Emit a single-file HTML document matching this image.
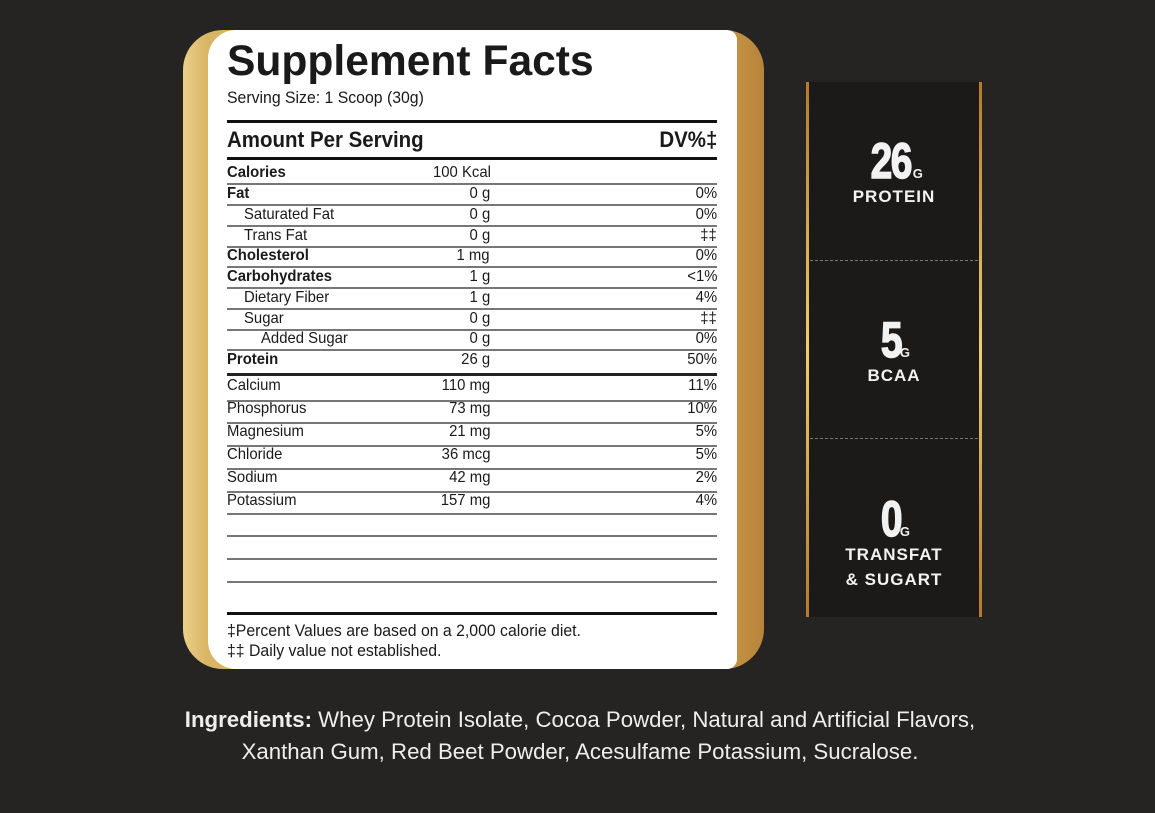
<!DOCTYPE html>
<html><head><meta charset="utf-8">
<style>
body{margin:0;width:1155px;height:813px;background:#262423;overflow:hidden;position:relative;font-family:"Liberation Sans",sans-serif}
.abs{position:absolute}
#gold{left:183px;top:30px;width:581px;height:639px;border-radius:40px;background:linear-gradient(90deg,#ecd08a 0%,#d9b566 4%,#c99a4a 92%,#b7843a 100%)}
#panel{left:208px;top:30px;width:529px;height:639px;background:#fff;border-radius:28px 10px 10px 28px}
.t{position:absolute;font-size:15px;color:#1a1a1a;white-space:nowrap;transform-origin:left center;transform:scaleX(.93);line-height:18px}
.r{transform-origin:right center}
.ln{position:absolute;left:227px;width:490px;background:#777;height:1.5px}
#side{left:806px;top:82px;width:176px;height:535px;background:#1c1a19}
.gl{position:absolute;top:82px;width:3px;height:535px;background:linear-gradient(#b57a2c,#f0cf6a 50%,#b57a2c)}
.dash{position:absolute;left:810px;width:168px;border-top:1.5px dashed #777}
.big{position:absolute;width:176px;left:806px;text-align:center;color:#f2f2f2;font-weight:bold}
.num{font-size:50px;line-height:46px;transform:scaleX(.78);display:inline-block;letter-spacing:-2px;-webkit-text-stroke:1.5px #f2f2f2}
.g{font-size:13px;margin-left:-4px}
.lab{font-size:17px;letter-spacing:1px;line-height:25px}
.ing{position:absolute;left:0;width:1160px;text-align:center;color:#eee;font-size:22px;transform:scaleX(1.01);transform-origin:center}
</style></head><body>
<div class="abs" id="gold"></div>
<div class="abs" id="panel"></div>
<div class="t" style="left:227px;top:38px;font-size:43px;font-weight:bold;line-height:46px;transform:scaleX(.99)">Supplement Facts</div>
<div class="t" style="left:227px;top:89px;font-size:17px">Serving Size: 1 Scoop (30g)</div>
<div class="ln" style="top:120px;height:3px;background:#111"></div>
<div class="t" style="left:227px;top:128px;font-size:22px;font-weight:bold;line-height:24px">Amount Per Serving</div>
<div class="t r" style="right:438px;top:128px;font-size:22px;font-weight:bold;line-height:24px">DV%‡</div>
<div class="ln" style="top:157px;height:3px;background:#111"></div>
<div class="t" style="left:227px;top:622px;font-size:17px">‡Percent Values are based on a 2,000 calorie diet.</div>
<div class="t" style="left:227px;top:642px;font-size:17px">‡‡ Daily value not established.</div>
<div class="ln" style="top:612px;height:3px;background:#111"></div>

<div class="abs" id="side"></div>
<div class="gl" style="left:806px"></div>
<div class="gl" style="left:979px"></div>
<div class="dash" style="top:260px"></div>
<div class="dash" style="top:438px"></div>
<div class="big" style="top:138px"><span class="num">26</span><span class="g">G</span><div class="lab">PROTEIN</div></div>
<div class="big" style="top:317px"><span class="num">5</span><span class="g">G</span><div class="lab">BCAA</div></div>
<div class="big" style="top:496px"><span class="num">0</span><span class="g">G</span><div class="lab">TRANSFAT<br>&amp; SUGART</div></div>

<div class="ing" style="top:707px"><b>Ingredients:</b> Whey Protein Isolate, Cocoa Powder, Natural and Artificial Flavors,</div>
<div class="ing" style="top:739px">Xanthan Gum, Red Beet Powder, Acesulfame Potassium, Sucralose.</div>

<script>
const names=["Calories","Fat","Saturated Fat","Trans Fat","Cholesterol","Carbohydrates","Dietary Fiber","Sugar","Added Sugar","Protein","Calcium","Phosphorus","Magnesium","Chloride","Sodium","Potassium"];
const amounts=["100 Kcal","0 g","0 g","0 g","1 mg","1 g","1 g","0 g","0 g","26 g","110 mg","73 mg","21 mg","36 mcg","42 mg","157 mg"];
const dvs=["","0%","0%","‡‡","0%","<1%","4%","‡‡","0%","50%","11%","10%","5%","5%","2%","4%"];
const indents=[0,0,1,1,0,0,1,1,2,0,0,0,0,0,0,0];
const bolds=[1,1,0,0,1,1,0,0,0,1,0,0,0,0,0,0];
const centers=[173,194,215,236,256,277,298,319,339,360,386,409,432,455,478,501];
const lines=[183,204,225,246,266,287,308,329,349,373,400,422,445,468,491,513,535,558,581];
function add(cls,txt,style,name){const d=document.createElement('div');d.className=cls;d.textContent=txt;d.style.cssText=style;


document.body.appendChild(d);}
names.forEach((n,i)=>{const y=centers[i]-9;
add('t',n,`left:${227+indents[i]*17}px;top:${y}px;font-size:16px;${bolds[i]?'font-weight:bold;':''}`,'nutrient-name');
if(i===0)add('t',amounts[i],`left:433px;top:${y}px;font-size:16px`,'nutrient-amount');
else add('t r',amounts[i],`right:665px;top:${y}px;font-size:16px`,'nutrient-amount');
if(dvs[i])add('t r',dvs[i],`right:438px;top:${y}px;font-size:16px`,'nutrient-dv');});
lines.forEach((y,i)=>{const d=document.createElement('div');d.className='ln';d.style.top=y+'px';
if(i===9){d.style.height='2.5px';d.style.background='#222';}


document.body.appendChild(d);});
</script>
</body></html>
